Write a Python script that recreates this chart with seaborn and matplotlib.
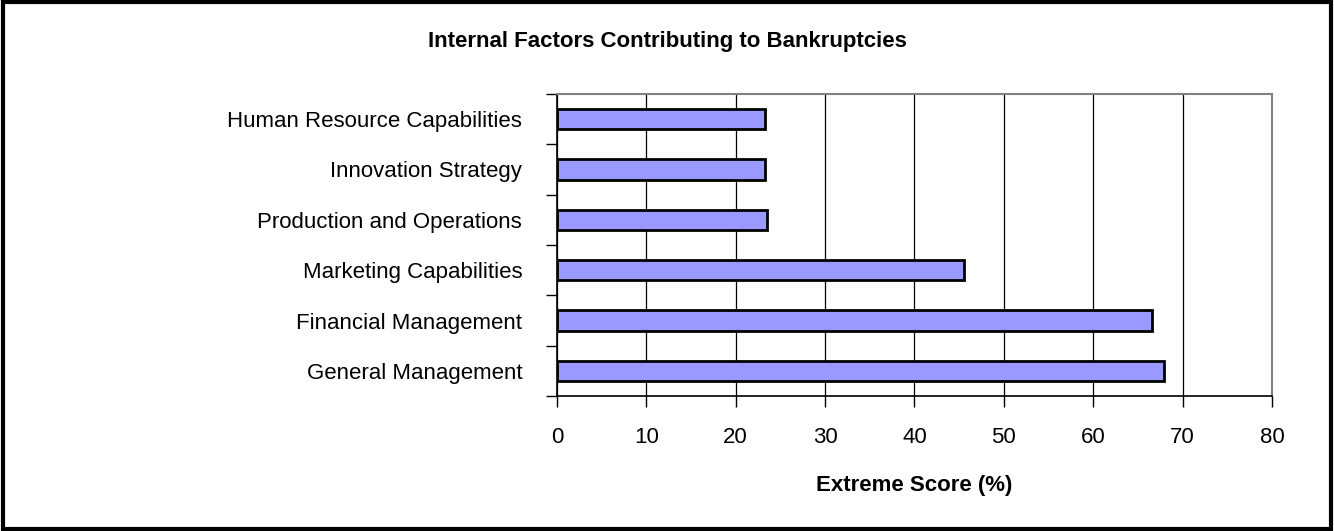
import numpy as np
import pandas as pd
import matplotlib
matplotlib.use("Agg")
import matplotlib.pyplot as plt
import seaborn as sns
from matplotlib.patches import Rectangle

factors = ['Human Resource Capabilities', 'Innovation Strategy', 'Production and Operations',
           'Marketing Capabilities', 'Financial Management', 'General Management']
scores = [23.3, 23.3, 23.5, 45.5, 66.6, 67.9]
xticks = [0, 10, 20, 30, 40, 50, 60, 70, 80]

sns.set_theme(style="white")
plt.rcParams['font.family'] = ['Liberation Sans', 'DejaVu Sans']
plt.rcParams['text.color'] = 'black'
plt.rcParams['axes.labelcolor'] = 'black'
plt.rcParams['xtick.color'] = 'black'
plt.rcParams['ytick.color'] = 'black'

df = pd.DataFrame({'factor': factors, 'score': scores})

fig = plt.figure(figsize=(13.34, 5.31), dpi=100)
ax = fig.add_axes([0.4175, 0.2542, 0.536, 0.5688])

sns.barplot(data=df, x='score', y='factor', orient='h', color='#9999FF',
            saturation=1, width=0.4, edgecolor='black', linewidth=2, ax=ax)

ax.set_xlim(0, 80)
ax.set_ylim(len(factors) - 0.5, -0.5)
ax.set_xticks(xticks)
ax.xaxis.grid(True, color='black', linewidth=0.9)
ax.set_axisbelow(True)

# category labels in the middle, tick marks on the boundaries
ax.set_yticks(range(len(factors)))
ax.set_yticklabels(factors)
ax.set_yticks(np.arange(-0.5, len(factors)), minor=True)
ax.tick_params(axis='y', which='major', length=0, pad=25, labelsize=16)
ax.tick_params(axis='y', which='minor', length=8, width=1, color='black', direction='out', left=True)
ax.tick_params(axis='x', length=8, width=1, color='black', direction='out', bottom=True,
               labelsize=16, pad=14)

for side in ['left', 'bottom']:
    ax.spines[side].set_color('black')
    ax.spines[side].set_linewidth(1.2)
for side in ['top', 'right']:
    ax.spines[side].set_color('#808080')
    ax.spines[side].set_linewidth(1.5)

ax.set_ylabel('')
ax.set_xlabel('Extreme Score (%)', fontsize=16, fontweight='bold')
ax.xaxis.set_label_coords(0.5, -0.3146)
ax.xaxis.label.set_va('baseline')

fig.text(0.5, 0.9115, 'Internal Factors Contributing to Bankruptcies', fontsize=16,
         fontweight='bold', ha='center', va='baseline')

fig.add_artist(Rectangle((0.002, 0.003), 0.996, 0.994, transform=fig.transFigure,
                         fill=False, edgecolor='black', linewidth=3))

fig.savefig('out.png', dpi=100)
